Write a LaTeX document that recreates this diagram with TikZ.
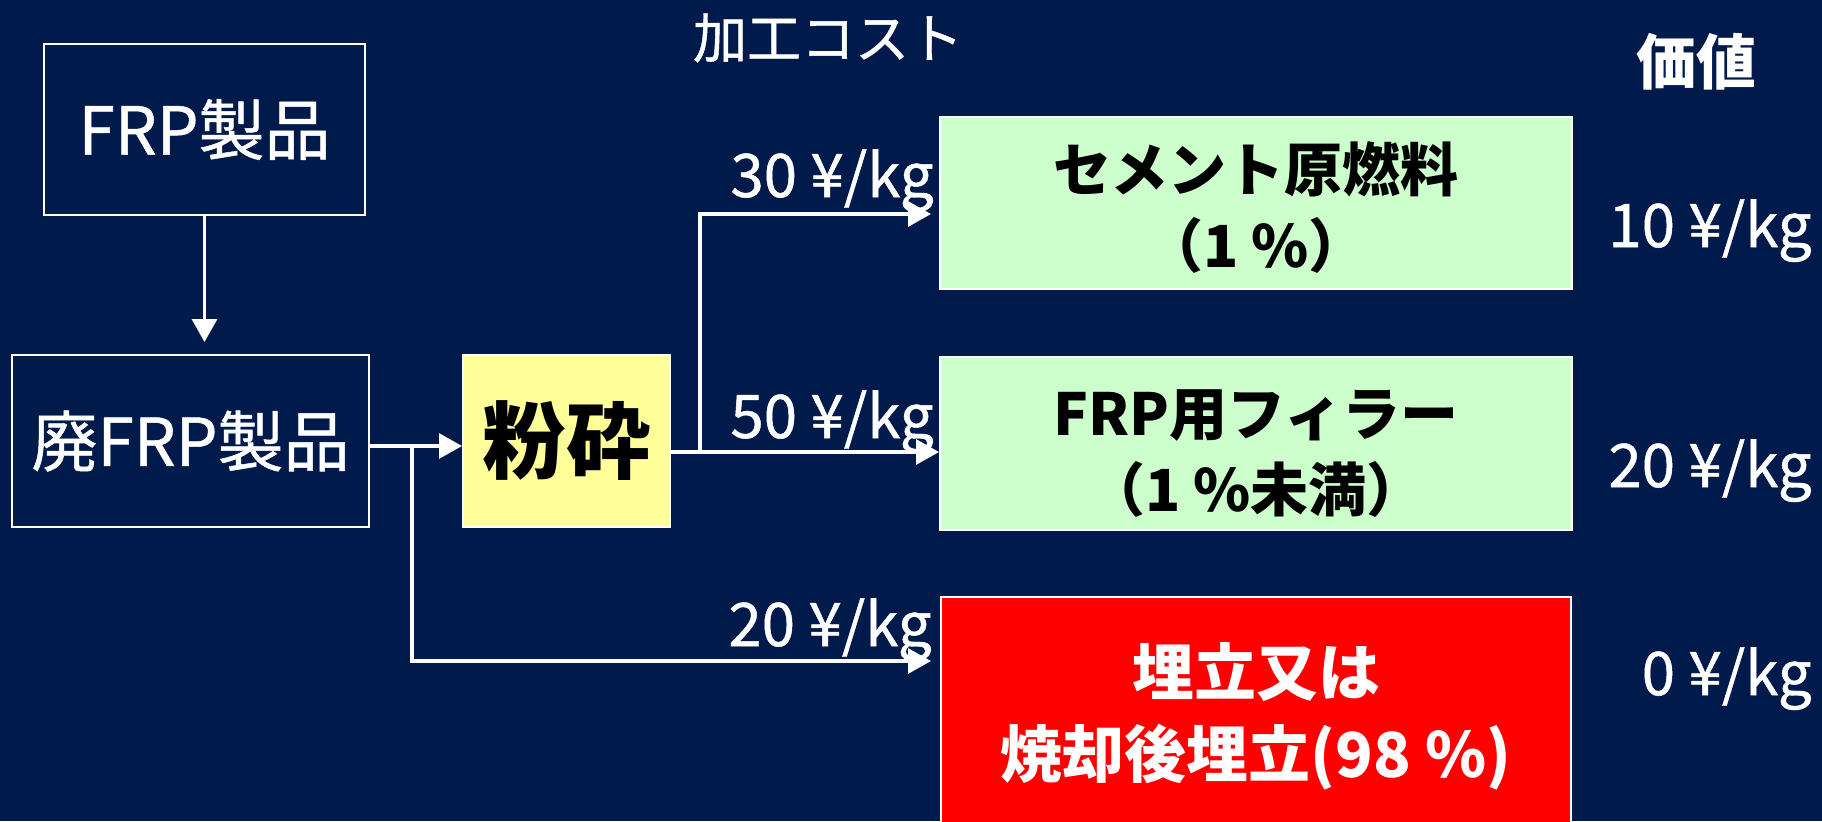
\documentclass[tikz,border=0pt]{standalone}
\usepackage{fontspec}
\setmainfont{Noto Sans CJK JP}
\newfontfamily\medjp{Noto Sans CJK JP}[FakeBold=0.8]
\usetikzlibrary{arrows.meta,calc}
\definecolor{bgnavy}{HTML}{001B4B}
\definecolor{boxgreen}{HTML}{CCFFCC}
\definecolor{boxyellow}{HTML}{FFFF99}
\definecolor{boxred}{HTML}{FF0000}
\tikzset{
  box/.style={draw=white, line width=1pt, rectangle, inner sep=0pt, align=center},
  navybox/.style={box, fill=bgnavy, text=white, font=\medjp\fontsize{33}{38}\selectfont},
  greenbox/.style={box, fill=boxgreen},
  greentext/.style={inner sep=0pt, align=center, text=black, font=\bfseries\fontsize{29}{38}\selectfont},
  redtext/.style={inner sep=0pt, align=center, text=white, font=\bfseries\fontsize{31}{41}\selectfont},
  conn/.style={draw=white, line width=1.6pt},
  arr/.style={conn, -{Triangle[length=11.5pt,width=12.5pt]}},
  cost/.style={text=white, inner sep=0pt, font=\medjp\fontsize{30}{36}\selectfont},
}
\begin{document}
\begin{tikzpicture}[x=0.5pt,y=-0.5pt]
\fill[bgnavy] (0,0) rectangle (1822,821);
\useasboundingbox (0,0) rectangle (1822,821);

% boxes
\node[navybox, minimum width=160.5pt, minimum height=85.5pt] (frp) at (204.5,129.5) {FRP製品};
\node[navybox, minimum width=178.5pt, minimum height=86pt] (waste) at (190.5,441) {廃FRP製品};
\node[box, fill=boxyellow, text=black, font=\bfseries\fontsize{42}{48}\selectfont, minimum width=103.5pt, minimum height=86pt] (crush) at (566.5,441) {粉砕};
\node[greenbox, minimum width=316pt, minimum height=86pt] (cement) at (1256,203) {};
\node[greentext] (cementtxt) at ($(cement.center)+(0,5)$) {セメント原燃料\\（1 \%）};
\node[greenbox, minimum width=316pt, minimum height=86.5pt] (filler) at (1256,443.5) {};
\node[greentext] (fillertxt) at ($(filler.center)+(0,10)$) {FRP用フィラー\\（1 \%未満）};
\node[box, fill=boxred, minimum width=315pt, minimum height=116.5pt] (landfill) at (1256,713.5) {};
\node[redtext] (landfilltxt) at ($(landfill.center)+(0,3)$) {埋立又は\\焼却後埋立(98 \%)};

% headings
\node[text=white, inner sep=0pt, font=\medjp\fontsize{27}{32}\selectfont] (hcost) at (828,38) {加工コスト};
\node[text=white, inner sep=0pt, font=\bfseries\fontsize{30}{36}\selectfont] (hval) at (1696,62) {価値};

% junction coordinates
\coordinate (j1) at (700,452);
\coordinate (j2) at (412,446);
\coordinate (jt) at (700,214);
\coordinate (jb) at (412,661);

% connectors
\draw[arr, shorten >=6pt] (frp.south) -- (frp.south |- waste.north);
\draw[arr] (waste.east |- j2) -- (crush.west |- j2);
\draw[arr] (crush.east |- j1) -- (filler.west |- j1);
\draw[arr, shorten >=4pt] (j1) -- (jt) -- (cement.west |- jt);
\draw[arr, shorten >=4.5pt] (j2) -- (jb) -- (landfill.west |- jb);

% cost labels
\node[cost, anchor=base east] (c30) at (934,197) {30 ¥/kg};
\node[cost, anchor=base east] (c50) at (934,438) {50 ¥/kg};
\node[cost, anchor=base east] (c20) at (932,646) {20 ¥/kg};

% value labels
\node[cost, anchor=base east] (v10) at (1812,247) {10 ¥/kg};
\node[cost, anchor=base east] (v20) at (1812,487) {20 ¥/kg};
\node[cost, anchor=base east] (v0) at (1812,695) {0 ¥/kg};
\end{tikzpicture}
\end{document}
